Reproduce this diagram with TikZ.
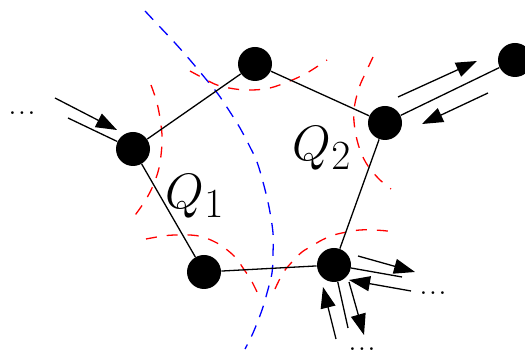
\documentclass[tikz,border=0pt]{standalone}
\usetikzlibrary{arrows.meta}
\newcommand{\mydots}{.\kern0.8pt.\kern0.8pt.}
\begin{document}
\begin{tikzpicture}[x=0.5pt,y=-0.5pt,
  vtx/.style={circle,fill=black,draw=none,minimum size=17pt,inner sep=0pt},
  edge/.style={line width=0.65pt},
  flow/.style={line width=0.65pt,-{Triangle[length=10.5pt,width=7.5pt]}},
  cutred/.style={red,line width=0.65pt,dash pattern=on 5.5pt off 5pt},
  cutblue/.style={blue,line width=0.65pt,dash pattern=on 6pt off 4.5pt},
  lbl/.style={inner sep=0pt,font=\Huge},
  dotsl/.style={inner sep=0pt,font=\Large}]
\path[use as bounding box] (0,0) rectangle (525,356);

% dashed cuts
\draw[cutblue] plot[smooth,tension=0.6] coordinates {(145,11) (160,27) (175,43) (190,60) (205,78) (218,94) (230,112) (240,128) (250,147) (257,162) (263,182) (269,207) (273,233) (273,253) (272,273) (267,293) (262,310) (253,333) (245,349)};
\draw[cutred] plot[smooth,tension=0.6] coordinates {(151,85) (157,103) (161,125) (162,143) (159,168) (152,188) (143,204) (130,222)};
\draw[cutred] plot[smooth,tension=0.6] coordinates {(190,71) (203,78) (217,85) (235,89) (252,90) (270,88) (290,81) (305,74) (315,68) (327,60)};
\draw[cutred] plot[smooth,tension=0.6] coordinates {(373,57) (366,72) (359,88) (354,110) (355,130) (360,150) (368,166) (380,180) (391,189)};
\draw[cutred] plot[smooth,tension=0.6] coordinates {(275,289) (283,273) (292,262) (302,252) (312,246) (322,240) (334,235) (347,232) (360,230) (373,230) (387,231) (396,233)};
\draw[cutred] plot[smooth,tension=0.6] coordinates {(146,239) (163,236) (175,235) (190,235) (203,237) (217,243) (226,249) (236,258) (243,268) (251,280) (258,294)};

% vertices
\node[vtx] (A) at (133,149) {};
\node[vtx] (B) at (255,64) {};
\node[vtx] (C) at (385,123) {};
\node[vtx] (D) at (515,60) {};
\node[vtx] (E) at (334,265) {};
\node[vtx] (F) at (204,272) {};

% edges
\draw[edge] (A) -- (B);
\draw[edge] (B) -- (C);
\draw[edge] (C) -- (E);
\draw[edge] (E) -- (F);
\draw[edge] (F) -- (A);
\draw[edge] (C) -- (D);

% labels
\node[lbl] (q1) at (195,196) {$Q_1$};
\node[lbl] (q2) at (322,148) {$Q_2$};
\node[dotsl] (dl) at (22,113) {\mydots};
\node[dotsl] (dr) at (433,293) {\mydots};
\node[dotsl] (db) at (362,349) {\mydots};

% left inputs
\coordinate (la0) at (55,98);
\coordinate (la1) at (117,130);
\coordinate (ll) at (68,118);
\draw[flow] (la0) -- (la1);
\draw[edge] (ll) -- (A);

% C--D arrows
\coordinate (ca0) at (398,97);
\coordinate (ca1) at (477,61);
\coordinate (cb0) at (488,93);
\coordinate (cb1) at (422,124);
\draw[flow] (ca0) -- (ca1);
\draw[flow] (cb0) -- (cb1);

% E arrows
\coordinate (ea0) at (358,256);
\coordinate (ea1) at (415,272);
\coordinate (el) at (402,277);
\coordinate (eb0) at (411,291);
\coordinate (eb1) at (349,280);
\coordinate (ed) at (348,328);
\coordinate (ec0) at (349,282);
\coordinate (ec1) at (364,335);
\coordinate (ee0) at (336,339);
\coordinate (ee1) at (323,287);
\draw[flow] (ea0) -- (ea1);
\draw[edge] (E) -- (el);
\draw[flow] (eb0) -- (eb1);
\draw[edge] (E) -- (ed);
\draw[flow] (ec0) -- (ec1);
\draw[flow] (ee0) -- (ee1);
\end{tikzpicture}
\end{document}
